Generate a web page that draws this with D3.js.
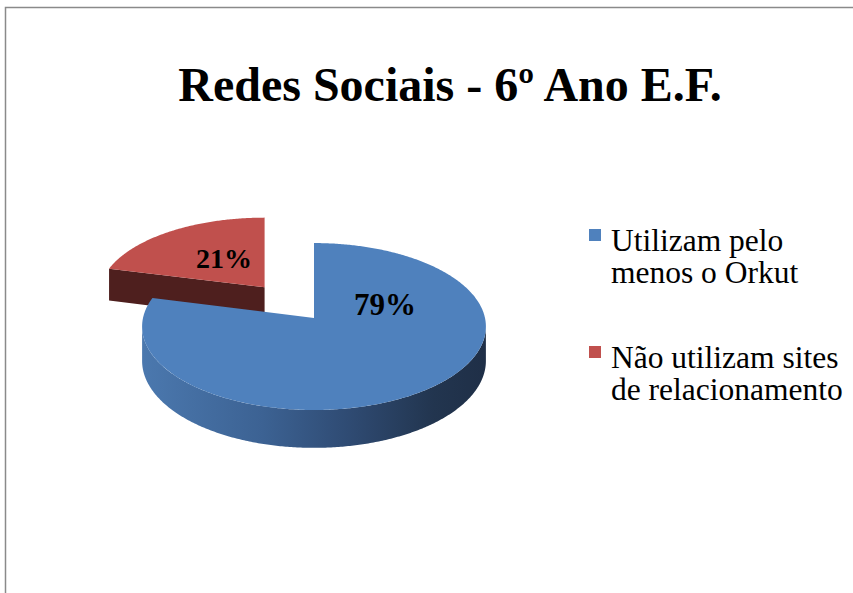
<!DOCTYPE html>
<html>
<head>
<meta charset="utf-8">
<script src="https://cdn.jsdelivr.net/npm/d3@7"></script>
<style>
  body { margin: 0; background: #fff; }
  svg { display: block; }
</style>
</head>
<body>
<div id="chart"></div>
<script>
var width = 853;
var height = 593;

// dati del grafico
var categories = ["Utilizam pelo menos o Orkut", "Não utilizam sites de relacionamento"];
var values = [79, 21];
var legendLines = [["Utilizam pelo", "menos o Orkut"], ["Não utilizam sites", "de relacionamento"]];
var explode = [0, 0.49];
var title = "Redes Sociais - 6º Ano E.F.";

var colors = ["#4F81BD", "#C0504D"];
var sideColors = ["#2c4770", "#4e1f1e"];

// geometria del disco in prospettiva
var cx = 314, cy = 318;
var rx = 171, ry = 82.6;
var k = 0.102;     // prospettiva
var depth = 34;    // spessore

var svg = d3.select("#chart")
            .append("svg")
            .attr("width", width)
            .attr("height", height);

svg.append("rect")
   .attr("x", 5.5)
   .attr("y", 7.5)
   .attr("width", width + 20)
   .attr("height", height + 20)
   .attr("fill", "#fff")
   .attr("stroke", "#8a8a8a")
   .attr("stroke-width", 1.5);

svg.append("text")
   .attr("x", 450)
   .attr("y", 101)
   .attr("text-anchor", "middle")
   .style("font", "bold 48px 'Liberation Serif', 'Times New Roman', serif")
   .text(title);

var pie = d3.pie().sort(null).value(function(d) { return d; });
var arcs = pie(values);

arcs.forEach(function(a, i) {
    var mid = (a.startAngle + a.endAngle) / 2;
    a.ox = Math.sin(mid) * explode[i];
    a.oy = -Math.cos(mid) * explode[i];
    a.s0 = 1 / (1 - k * a.oy);
    a.index = i;
});

// proiezione: punto della fetta a (angolo, raggio), h = 0 sopra, 1 sotto
function pt(a, ang, r, h) {
    var du = Math.sin(ang) * r;
    var v = a.oy - Math.cos(ang) * r;
    var s = 1 / (1 - k * v);
    return [cx + rx * (a.ox * a.s0 + du * s), cy + ry * v * s + h * depth * s];
}

function arcPoints(a, a0, a1, h) {
    var n = Math.max(2, Math.ceil((a1 - a0) / 0.01));
    return d3.range(n + 1).map(function(j) { return pt(a, a0 + (a1 - a0) * j / n, 1, h); });
}

var line = d3.line();

var defs = svg.append("defs");
var grad = defs.append("linearGradient")
               .attr("id", "blueSide")
               .attr("gradientUnits", "userSpaceOnUse")
               .attr("x1", cx - rx).attr("x2", cx + rx)
               .attr("y1", 0).attr("y2", 0);
[[0, "#4b78ae"], [0.35, "#3c6293"], [0.6, "#2f4b73"], [0.85, "#22354f"], [1, "#1f2f47"]].forEach(function(s) {
    grad.append("stop").attr("offset", s[0]).attr("stop-color", s[1]);
});

var gPie = svg.append("g");

// disegno dal fondo (fetta esplosa) al davanti
arcs.slice().reverse().forEach(function(a) {
    var g = gPie.append("g");

    // parete curva frontale (tra gli estremi sinistro e destro della silhouette)
    var samples = d3.range(0, 2 * Math.PI, 0.002);
    var xs = samples.map(function(t) { return pt(a, t, 1, 0)[0]; });
    var tR = samples[d3.maxIndex(xs)];
    var tL = samples[d3.minIndex(xs)];
    var w0 = Math.max(a.startAngle, tR);
    var w1 = Math.min(a.endAngle, tL);
    if (w1 > w0) {
        var top = arcPoints(a, w0, w1, 0);
        var bot = arcPoints(a, w0, w1, 1).reverse();
        g.append("path")
         .attr("d", line(top.concat(bot)) + "Z")
         .attr("fill", a.index === 0 ? "url(#blueSide)" : sideColors[a.index]);
    }

    // parete radiale del bordo iniziale (rivolta verso chi guarda)
    if (Math.sin(a.startAngle + Math.PI) > 0) {
        var p0 = pt(a, a.startAngle, 0, 0), p1 = pt(a, a.startAngle, 1, 0);
        var p2 = pt(a, a.startAngle, 1, 1), p3 = pt(a, a.startAngle, 0, 1);
        g.append("path")
         .attr("d", line([p0, p1, p2, p3]) + "Z")
         .attr("fill", sideColors[a.index]);
    }

    // faccia superiore
    var face = [pt(a, 0, 0, 0)].concat(arcPoints(a, a.startAngle, a.endAngle, 0));
    g.append("path")
     .attr("d", line(face) + "Z")
     .attr("fill", colors[a.index]);
});

// etichette percentuali
var labelPos = [[385, 315, 31], [224, 268, 28]];
arcs.forEach(function(a, i) {
    svg.append("text")
       .attr("x", labelPos[i][0])
       .attr("y", labelPos[i][1])
       .attr("text-anchor", "middle")
       .style("font", "bold " + labelPos[i][2] + "px 'Liberation Serif', 'Times New Roman', serif")
       .text(values[i] + "%");
});

// legenda
var legendY = [251, 368];
var legend = svg.append("g");
categories.forEach(function(c, i) {
    legend.append("rect")
          .attr("x", 589)
          .attr("y", legendY[i] - 22)
          .attr("width", 12)
          .attr("height", 12)
          .attr("fill", colors[i]);
    legendLines[i].forEach(function(l, j) {
        legend.append("text")
              .attr("x", 611)
              .attr("y", legendY[i] + j * 32)
              .style("font", "31.5px 'Liberation Serif', 'Times New Roman', serif")
              .text(l);
    });
});
</script>
</body>
</html>
